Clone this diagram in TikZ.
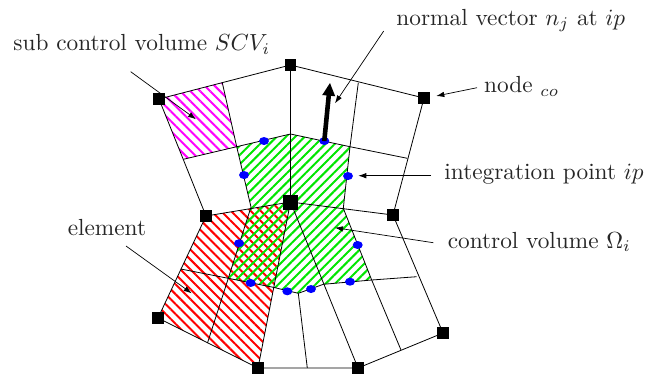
\documentclass[tikz,border=0pt]{standalone}
\usetikzlibrary{arrows.meta,patterns.meta,shapes.geometric}
\tikzset{
  x=1pt,y=-1pt,
  grid/.style={line width=0.8pt,black},
  sq/.style={fill=black,inner sep=0pt,minimum size=11.5pt,shape=rectangle},
  bigsq/.style={sq,minimum size=15pt},
  ipdot/.style={ellipse,fill=blue,inner sep=0pt,minimum width=10pt,minimum height=8pt},
  note/.style={line width=0.7pt,-{Latex[length=8pt,width=5.5pt]}},
  lbl/.style={anchor=base west,inner sep=0pt,scale=2.33,text=black!85},
  hm/.style={pattern={Lines[angle=-45,distance=7pt,line width=2pt]},pattern color=magenta},
  hr/.style={pattern={Lines[angle=-45,distance=7pt,line width=2pt]},pattern color=red},
  hg/.style={pattern={Lines[angle=45,distance=6.6pt,line width=2pt]},pattern color=green!90!black},
}
\begin{document}
\begin{tikzpicture}
\useasboundingbox (0,0) rectangle (654,376);
% corner coordinates
\coordinate (T) at (290.5,65);
\coordinate (TL) at (159,99);
\coordinate (TR) at (424,98);
\coordinate (C) at (290.5,202);
\coordinate (ML) at (206,216);
\coordinate (MR) at (393,215);
\coordinate (BL) at (158,318);
\coordinate (BR) at (443,333);
\coordinate (BA) at (258,368);
\coordinate (BB) at (358,368);
% edge mid points
\coordinate (mTL) at (222.3,82.7);
\coordinate (mTR) at (358.3,82.7);
\coordinate (mLU) at (183.3,159.3);
\coordinate (mRU) at (407.3,158.3);
\coordinate (iL) at (236.7,146.7);
\coordinate (iT) at (290.5,134);
\coordinate (iR) at (350,146.7);
\coordinate (mCL) at (251,207);
\coordinate (mCR) at (343.3,208.3);
\coordinate (mLL) at (180.7,269);
\coordinate (mRL) at (416.7,276.7);
\coordinate (jL) at (228.3,278.3);
\coordinate (jA) at (273.3,287.3);
\coordinate (jM) at (298.3,293.3);
\coordinate (jB) at (323.3,284.3);
\coordinate (jR) at (371.7,280);
\coordinate (mBL) at (207.5,343);
\coordinate (mBM) at (307.3,368);
\coordinate (mBR) at (401,350);
% hatched regions
\path[hm] (TL) -- (mTL) -- (iL) -- (mLU) -- cycle;
\path[hr] (ML) -- (C) -- (BA) -- (BL) -- cycle;
\path[hg] (iL) -- (iT) -- (iR) -- (mCR) -- (jR) -- (jB) -- (jM) -- (jA) -- (jL) -- (mCL) -- cycle;
% mesh
\draw[grid] (TL) -- (T) -- (TR) -- (MR) -- (BR) -- (BB) -- (BA) -- (BL) -- (ML) -- (TL) -- cycle;
\draw[grid] (T) -- (C) -- (BA);
\draw[grid] (C) -- (BB);
\draw[grid] (ML) -- (C) -- (MR);
\draw[grid] (mTL) -- (iL) -- (mCL) -- (jL) -- (mBL);
\draw[grid] (mTR) -- (iR) -- (mCR) -- (jR) -- (mBR);
\draw[grid] (mLU) -- (iL) -- (iT) -- (iR) -- (mRU);
\draw[grid] (mLL) -- (jL) -- (jA) -- (jM) -- (jB) -- (jR) -- (mRL);
\draw[grid] (jM) -- (mBM);
% mesh nodes
\node[sq] (nT) at (T) {};
\node[sq] (nTL) at (TL) {};
\node[sq] (nTR) at (TR) {};
\node[bigsq] (nC) at (C) {};
\node[sq] (nML) at (ML) {};
\node[sq] (nMR) at (MR) {};
\node[sq] (nBL) at (BL) {};
\node[sq] (nBR) at (BR) {};
\node[sq] (nBA) at (BA) {};
\node[sq] (nBB) at (BB) {};
% integration points
\node[ipdot] (p1) at (264,141) {};
\node[ipdot] (p2) at (324.3,141) {};
\node[ipdot] (p3) at (244,175) {};
\node[ipdot] (p4) at (348,176) {};
\node[ipdot] (p5) at (239,243.3) {};
\node[ipdot] (p6) at (357.7,245) {};
\node[ipdot] (p7) at (250.7,283) {};
\node[ipdot] (p8) at (287.3,291.3) {};
\node[ipdot] (p9) at (311,289) {};
\node[ipdot] (p10) at (350,281.7) {};
% normal vector
\coordinate (ntip) at (330,82.7);
\draw[line width=4.6pt,-{Triangle[length=13pt,width=12pt]}] (p2.center) -- (ntip);
% labels
\node[lbl] (lscv) at (13,50.7) {sub control volume $SCV_i$};
\node[lbl] (lnv) at (396,25) {normal vector $n_j$ at $ip$};
\node[lbl] (lco) at (483.7,92.7) {node $_{co}$};
\node[lbl] (lip) at (444,179.3) {integration point $ip$};
\node[lbl] (lcv) at (447.3,248.3) {control volume $\Omega_i$};
\node[lbl] (lel) at (67.3,235) {element};
% leaders
\coordinate (a1s) at (130.7,71.7); \coordinate (a1e) at (196,119.3);
\coordinate (a2s) at (383.7,31); \coordinate (a2e) at (335,103.3);
\coordinate (a3s) at (477,87.7); \coordinate (a3e) at (436.3,96);
\coordinate (a4s) at (431,175.7); \coordinate (a4e) at (358.3,175.7);
\coordinate (a5s) at (433.3,242.7); \coordinate (a5e) at (335,227.7);
\coordinate (a6s) at (126,246); \coordinate (a6e) at (191.7,293.3);
\draw[note] (a1s) -- (a1e);
\draw[note] (a2s) -- (a2e);
\draw[note] (a3s) -- (a3e);
\draw[note] (a4s) -- (a4e);
\draw[note] (a5s) -- (a5e);
\draw[note] (a6s) -- (a6e);
\end{tikzpicture}
\end{document}
